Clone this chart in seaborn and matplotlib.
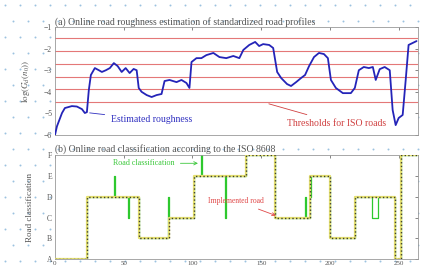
import numpy as np
import pandas as pd
import matplotlib
matplotlib.use("Agg")
import matplotlib.pyplot as plt
import seaborn as sns

# =====================================================================
# 1. Data
# =====================================================================
# (a) estimated roughness log10(Gd(n0)) along the distance
dist_est = [0.0, 1.4, 5.1, 7.2, 12.3, 15.9, 19.6, 21.7, 23.2, 24.6, 26.1, 29.0, 31.9, 34.1,
            37.0, 39.9, 42.8, 45.6, 48.5, 51.4, 54.3, 57.2, 59.4, 60.9, 63.0, 66.7, 70.3,
            73.9, 77.5, 79.7, 83.3, 88.4, 92.0, 95.6, 97.8, 99.3, 102.9, 106.5, 110.1,
            115.2, 119.6, 124.6, 129.7, 134.1, 137.0, 141.3, 145.6, 148.5, 151.4, 155.8,
            158.7, 161.6, 164.5, 168.8, 171.7, 175.4, 179.0, 181.9, 184.8, 188.4, 192.0,
            195.6, 198.5, 200.7, 204.3, 209.4, 215.2, 218.1, 221.0, 224.6, 228.3, 231.2,
            233.3, 236.2, 239.8, 243.5, 245.6, 247.8, 250.0, 252.9, 255.1, 257.2, 260.1, 263.0]
rough_est = [-6.0, -5.6, -4.98, -4.75, -4.66, -4.68, -4.80, -4.98, -4.94, -3.92, -3.22, -2.90,
             -3.00, -3.08, -3.00, -2.90, -2.67, -2.81, -3.08, -2.90, -3.13, -2.94, -3.00,
             -3.82, -4.00, -4.15, -4.24, -4.15, -4.10, -3.50, -3.45, -3.55, -3.45, -3.59,
             -3.82, -2.62, -2.44, -2.44, -2.30, -2.20, -2.39, -2.44, -2.34, -2.44, -2.06,
             -1.83, -1.69, -1.88, -1.79, -1.83, -1.97, -3.08, -3.36, -3.64, -3.73, -3.55,
             -3.36, -3.22, -2.81, -2.39, -2.20, -2.25, -2.44, -3.45, -3.82, -4.06, -4.06,
             -3.82, -3.00, -2.85, -2.90, -2.85, -3.45, -2.95, -2.85, -3.00, -4.84, -5.54,
             -5.21, -5.07, -3.45, -1.83, -1.74, -1.65]

# ISO 8608 class limits in log10 (m^3)
iso_thresholds = [-4.49, -3.89, -3.29, -2.69, -2.09, -1.49]

# (b) road classes
class_labels = ["A", "B", "C", "D", "E", "F"]

dist_impl = [0, 23, 61, 82.6, 101, 139, 160, 185.5, 200, 218, 247, 251.5, 263]
class_impl = ["A", "D", "B", "C", "E", "F", "C", "E", "B", "D", "A", "F", "F"]

dist_clf = [0, 23, 43, 44, 53.3, 54, 61, 82, 82.8, 101, 106.3, 107, 123.8, 124.5, 139, 160,
            181.8, 182.5, 185.5, 186.5, 200, 218, 230.5, 234.8, 247, 252, 263]
class_clf = ["A", "D", "E", "D", "C", "D", "B", "D", "C", "E", "F", "E", "C", "E", "F", "C",
             "D", "C", "D", "E", "B", "D", "C", "D", "A", "F", "F"]

x_ticks = [0, 50, 100, 150, 200, 250]
y_ticks_a = [-6, -5, -4, -3, -2, -1]

# =====================================================================
# 2. Figure
# =====================================================================
sns.set_theme(style="white")
plt.rcParams["font.family"] = ["Liberation Serif", "DejaVu Serif"]
plt.rcParams["mathtext.fontset"] = "stix"

txt_col = "#555555"
fig = plt.figure(figsize=(4.24, 2.69), dpi=100)

# dotted background
bg = fig.add_axes([0, 0, 1, 1], zorder=-10)
bx, by = np.meshgrid(np.arange(5, 424, 15.0), np.arange(5, 269, 16.0))
bx = bx + 7.5 * (np.arange(bx.shape[0])[:, None] % 2)
bg.scatter(bx.ravel(), 269 - by.ravel(), s=2.0, color="#9cc2e0", linewidths=0)
bg.set_xlim(0, 424)
bg.set_ylim(0, 269)
bg.axis("off")

ax1 = fig.add_axes([0.1297, 0.498, 0.856, 0.4015])
ax2 = fig.add_axes([0.1297, 0.036, 0.856, 0.388])

# =====================================================================
# 3. (a) Roughness estimation
# =====================================================================
for th in iso_thresholds:
    ax1.axhline(th, color="#e47878", lw=0.8, zorder=1)

df_a = pd.DataFrame({"dist": dist_est, "rough": rough_est})
sns.lineplot(data=df_a, x="dist", y="rough", ax=ax1, color="#2424b8", lw=1.3,
             estimator=None, sort=False, zorder=3)

ax1.annotate("Estimated roughness", xy=(23.2, -4.96), xytext=(40.5, -5.3),
             color="#3030c0", fontsize=7, va="center",
             arrowprops=dict(arrowstyle="-", color="#3030c0", lw=0.6))
ax1.annotate("Thresholds for ISO roads", xy=(153.6, -4.52), xytext=(169.0, -5.45),
             color="#d04040", fontsize=7, va="center",
             arrowprops=dict(arrowstyle="-", color="#d04040", lw=0.6))

ax1.set_xlim(0, 264)
ax1.set_ylim(-6, -1)
ax1.set_xticks(x_ticks)
ax1.set_xticklabels([])
ax1.set_yticks(y_ticks_a)
ax1.set_xlabel("")
ax1.set_ylabel(r"$\log(G_d(n_0))$", fontsize=6.5, color=txt_col, labelpad=9)
ax1.set_title("(a) Online road roughness estimation of standardized road profiles",
              loc="left", fontsize=7, color=txt_col, pad=2)

# =====================================================================
# 4. (b) Road classification
# =====================================================================
df_clf = pd.DataFrame({"dist": dist_clf, "cls": [class_labels.index(c) for c in class_clf]})
df_impl = pd.DataFrame({"dist": dist_impl, "cls": [class_labels.index(c) for c in class_impl]})

sns.lineplot(data=df_clf, x="dist", y="cls", ax=ax2, color="#2ec82e", lw=0.9,
             drawstyle="steps-post", estimator=None, sort=False, zorder=2)
sns.lineplot(data=df_impl, x="dist", y="cls", ax=ax2, color="#e4e070", lw=1.6,
             drawstyle="steps-post", estimator=None, sort=False, zorder=3)
sns.lineplot(data=df_impl, x="dist", y="cls", ax=ax2, color="#404030", lw=1.0,
             linestyle=":", drawstyle="steps-post", estimator=None, sort=False, zorder=4)

ax2.annotate("Road classification", xy=(106.0, 4.6), xytext=(42.0, 4.6),
             color="#3cc83c", fontsize=5.9, va="center",
             arrowprops=dict(arrowstyle="->", color="#3cc83c", lw=0.6))
ax2.annotate("Implemented road", xy=(162.5, 2.05), xytext=(111.5, 2.8),
             color="#e04848", fontsize=5.5, va="center",
             arrowprops=dict(arrowstyle="->", color="#e04848", lw=0.6))

ax2.set_xlim(0, 264)
ax2.set_ylim(0, 5)
ax2.set_xticks(x_ticks)
ax2.set_yticks(range(len(class_labels)))
ax2.set_yticklabels(class_labels)
ax2.set_xlabel("")
ax2.set_ylabel("Road classification", fontsize=6.5, color=txt_col, labelpad=9)
ax2.set_title("(b) Online road classification according to the ISO 8608",
              loc="left", fontsize=7, color=txt_col, pad=2)

for ax in (ax1, ax2):
    ax.set_facecolor("white")
    ax.tick_params(direction="in", length=2, width=0.5, labelsize=5.5,
                   colors=txt_col, top=True, right=True, pad=2)
    for sp in ax.spines.values():
        sp.set_color("#999999")
        sp.set_linewidth(0.6)
ax2.tick_params(axis="x", labelsize=5, pad=1)

fig.savefig("out.png", dpi=100)
